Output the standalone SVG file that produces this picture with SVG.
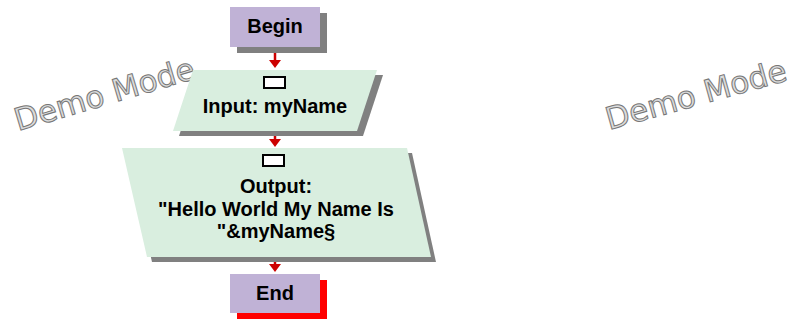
<svg xmlns="http://www.w3.org/2000/svg" width="799" height="320" viewBox="0 0 799 320">
<style>
.term{fill:#c0b2d6}
.io{fill:#d9eedf}
.gsh{fill:#808080}
.rsh{fill:#ff0000}
.lbl{font-family:"Liberation Sans",Arial,sans-serif;font-weight:bold;font-size:20px;fill:#000;text-anchor:middle}
.slot{fill:#fff;stroke:#000;stroke-width:2}
.wm{font-family:"DejaVu Sans",Verdana,sans-serif;font-size:31px;fill:#dcdcdc;stroke:#777;stroke-width:1}
.stem{stroke:#cc0000;stroke-width:2.5;fill:none}
.head{fill:#cc0000}
</style>
<rect width="799" height="320" fill="#fff"/>
<g id="watermarks">
<text class="wm" x="18" y="131" transform="rotate(-16.5 18 131)">Demo Mode</text>
<text class="wm" x="609" y="130" transform="rotate(-15.5 609 130)">Demo Mode</text>
</g>
<g id="connectors">
<line class="stem" x1="275" y1="47" x2="275" y2="61"/>
<polygon class="head" points="269,60 281,60 275,68"/>
<line class="stem" x1="275" y1="131" x2="275" y2="140"/>
<polygon class="head" points="269,139 281,139 275,147"/>
<line class="stem" x1="275" y1="257" x2="275" y2="265"/>
<polygon class="head" points="269,264 281,264 275,272"/>
</g>
<g id="begin">
<rect class="gsh" x="237" y="13" width="90" height="40"/>
<rect class="term" x="230" y="7" width="90" height="40"/>
<text class="lbl" x="275" y="33">Begin</text>
</g>
<g id="input">
<polygon class="gsh" points="199,75 383,75 363,136 179,136"/>
<polygon class="io" points="193,70 377,70 357,131 173,131"/>
<rect class="slot" x="264" y="77" width="21" height="11"/>
<text class="lbl" x="275" y="113">Input: myName</text>
</g>
<g id="output">
<polygon class="gsh" points="127,153 412,153 436,262 152,262"/>
<polygon class="io" points="122,148 407,148 431,257 147,257"/>
<rect class="slot" x="263" y="155" width="21" height="11"/>
<text class="lbl" x="276" y="193">Output:</text>
<text class="lbl" x="276" y="215.5">"Hello World My Name Is</text>
<text class="lbl" x="276" y="238">"&amp;myName§</text>
</g>
<g id="end">
<rect class="rsh" x="237" y="280" width="90" height="39"/>
<rect class="term" x="230" y="274" width="90" height="39"/>
<text class="lbl" x="275" y="300">End</text>
</g>
</svg>
